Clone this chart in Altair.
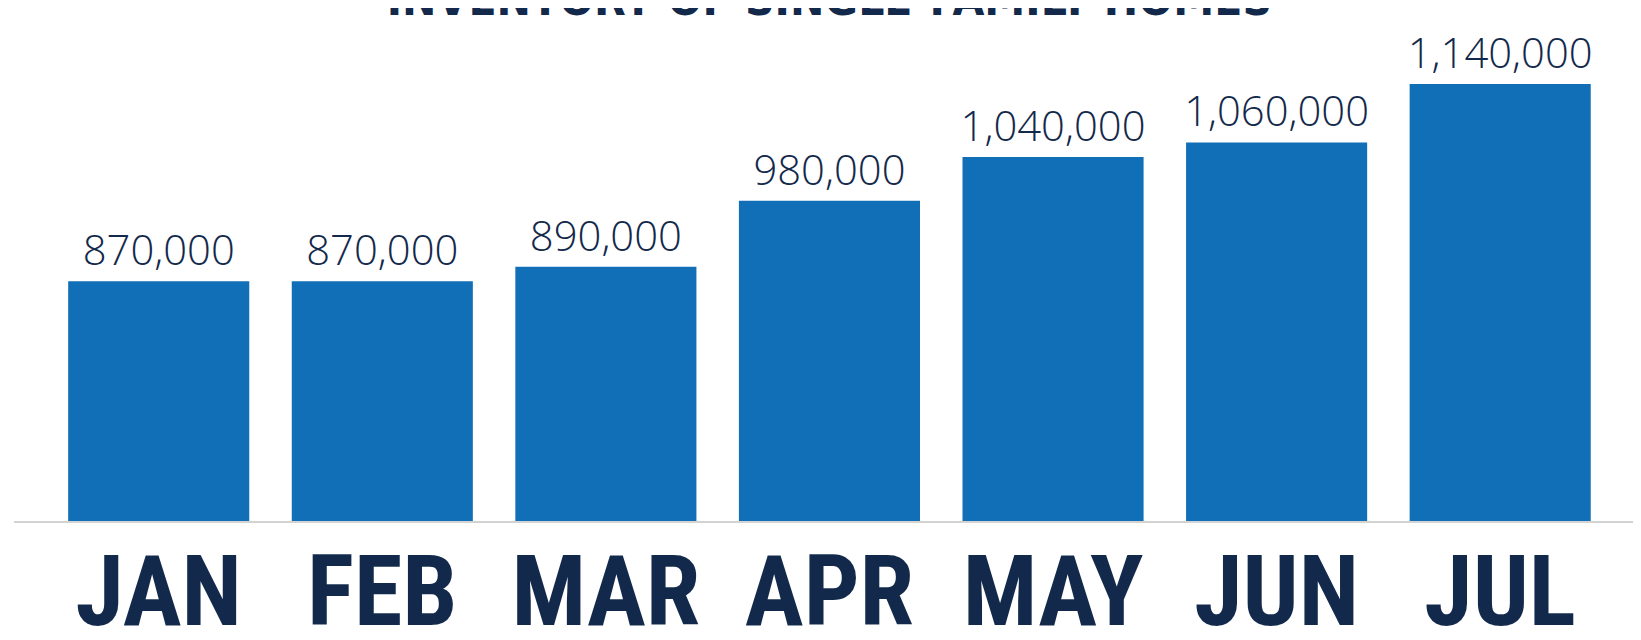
import altair as alt
import pandas as pd

months = ["JAN", "FEB", "MAR", "APR", "MAY", "JUN", "JUL"]
inventory = [870000, 870000, 890000, 980000, 1040000, 1060000, 1140000]
title_text = "INVENTORY OF SINGLE-FAMILY HOMES"
y_min, y_max = 542000, 1141000

W, H = 1575, 440
NAVY = "#13294B"
BLUE = "#116FB7"
NARROW = "Liberation Sans Narrow, Arial Narrow, DejaVu Sans Condensed, sans-serif"
MONTH_FONT = "Noto Sans Condensed, Roboto Condensed, Liberation Sans Narrow, DejaVu Sans Condensed, sans-serif"

df = pd.DataFrame({"month": months, "value": inventory})
df["label"] = [f"{v:,}" for v in inventory]

x = alt.X("month:N", sort=months, title=None,
          scale=alt.Scale(paddingInner=0.19, paddingOuter=0.1, round=False),
          axis=alt.Axis(domain=False, ticks=False, tickSize=0, labelAngle=0, labelLimit=0,
                        labelFont=MONTH_FONT, labelFontWeight="bold", labelFontSize=99,
                        labelColor=NAVY, labelBaseline="alphabetic", labelPadding=104))
y = alt.Y("value:Q", title=None,
          scale=alt.Scale(domain=[y_min, y_max], zero=False, nice=False),
          axis=None)

base = alt.Chart(df)
bars = base.mark_bar(color=BLUE).encode(x=x, y=y, y2=alt.datum(y_min))
labels = base.mark_text(font="Open Sans", fontSize=42, fontWeight=300, color=NAVY, dy=-16,
                        baseline="alphabetic").encode(
    x=alt.X("month:N", sort=months), y="value:Q", text="label:N")

rule = alt.Chart(pd.DataFrame({"a": [0]})).mark_rule(color="#D3D3D3", strokeWidth=2).encode(
    x=alt.value(-32), x2=alt.value(1600), y=alt.value(H + 1))

title = alt.Chart(pd.DataFrame({"t": [title_text]})).mark_text(
    font=NARROW, fontWeight="bold", fontSize=46, color=NAVY,
    baseline="alphabetic", align="center").encode(
    x=alt.value(W / 2), y=alt.value(-69), text="t:N")

chart = alt.layer(bars, labels, rule, title).properties(
    width=W, height=H,
    autosize=alt.AutoSizeParams(type="none"),
    padding={"left": 38, "top": 74, "right": 20, "bottom": 118},
).configure_view(stroke=None)

chart.save("out.html", embed_options={"renderer": "svg", "actions": False})
